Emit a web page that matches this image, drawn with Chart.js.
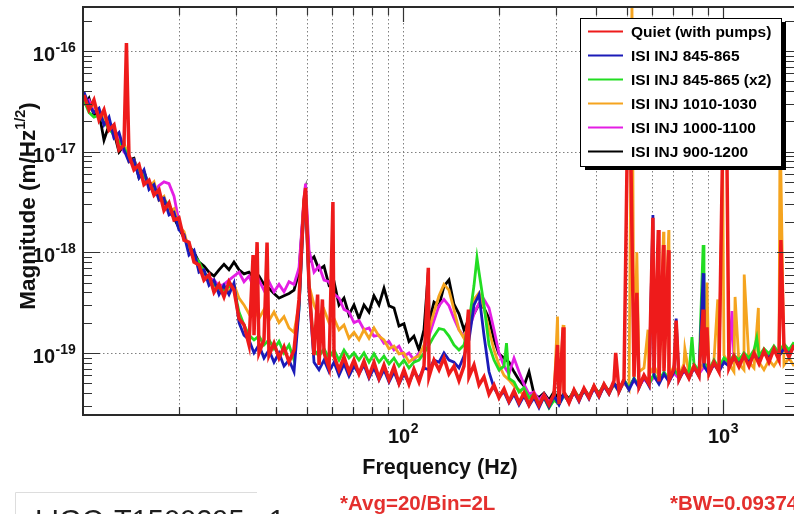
<!DOCTYPE html>
<html>
<head>
<meta charset="utf-8">
<title>ISI injection spectra</title>
<script src="https://cdn.jsdelivr.net/npm/chart.js@4.4.1/dist/chart.umd.min.js"></script>
<style>
  html, body { margin: 0; padding: 0; background: #ffffff; overflow: hidden; }
  canvas { display: block; }
</style>
</head>
<body>
<canvas id="spectrum" width="794" height="514"></canvas>
<script>
// Frequency bins (Hz) shared by all spectra
const freqHz = [
  10.07, 10.44, 10.82, 11.22, 11.63, 12.06, 12.50, 12.96, 13.43, 13.92,
  14.43, 14.96, 15.51, 16.08, 16.67, 17.28, 17.91, 18.57, 19.25, 19.95,
  20.69, 21.44, 22.23, 23.04, 23.88, 24.76, 25.67, 26.61, 27.58, 28.59,
  29.64, 30.73, 31.85, 33.02, 34.23, 35.48, 36.78, 38.13, 39.53, 40.98,
  42.48, 44.04, 45.65, 47.32, 49.06, 50.86, 52.72, 54.65, 56.65, 58.73,
  60.88, 63.10, 65.41, 67.81, 70.29, 72.86, 75.53, 78.30, 81.17, 84.14,
  87.22, 90.42, 93.73, 97.16, 100.7, 104.4, 108.2, 112.2, 116.3, 120.6,
  125.0, 129.6, 134.3, 139.2, 144.3, 149.6, 155.1, 160.8, 166.7, 172.8,
  179.1, 185.7, 192.5, 199.5, 206.9, 214.4, 222.3, 230.4, 238.8, 247.6,
  256.7, 266.1, 275.8, 285.9, 296.4, 307.3, 318.5, 330.2, 342.3, 354.8,
  367.8, 381.3, 395.3, 409.8, 424.8, 440.4, 456.5, 473.2, 490.6, 508.6,
  527.2, 546.5, 566.5, 587.3, 608.8, 631.0, 654.1, 678.1, 702.9, 728.6,
  755.3, 783.0, 811.7, 841.4, 872.2, 904.2, 937.3, 971.6, 1007, 1044,
  1082, 1122, 1163, 1206, 1250, 1296, 1343, 1392, 1443, 1496,
  1551, 1608, 1667
];

// Magnitude spectra, m/Hz^(1/2)
const quiet = [
  3.65e-17, 2.6e-17, 3.25e-17, 2.06e-17, 2.6e-17, 1.64e-17, 1.84e-17, 1.04e-17, 1.16e-17, 9.2e-18,
  6.6e-18, 7.4e-18, 4.7e-18, 5.2e-18, 3.7e-18, 4.2e-18, 2.6e-18, 3.1e-18, 2.1e-18, 2.2e-18,
  1.32e-18, 1.26e-18, 8.0e-19, 7.5e-19, 5.3e-19, 6.0e-19, 4.0e-19, 4.8e-19, 3.6e-19, 5.1e-19,
  4.2e-19, 2.2e-19, 1.9e-19, 1.2e-19, 1.5e-19, 1.0e-19, 1.35e-19, 9.5e-20, 1.25e-19, 8.9e-20,
  1.15e-19, 8.1e-20, 1.07e-19, 3.4e-19, 3.3e-18, 4.7e-19, 9.5e-20, 7.6e-20, 1.0e-19, 7.1e-20,
  9.3e-20, 6.8e-20, 9.1e-20, 6.5e-20, 8.5e-20, 6.2e-20, 8.3e-20, 5.9e-20, 8.1e-20, 5.6e-20,
  7.6e-20, 5.4e-20, 7.3e-20, 5.0e-20, 6.8e-20, 4.9e-20, 6.9e-20, 5.15e-20, 7.4e-20, 5.8e-20,
  8.5e-20, 6.8e-20, 8.9e-20, 6.2e-20, 7.4e-20, 5.3e-20, 7.4e-20, 5.8e-20, 7.6e-20, 4.8e-20,
  5.8e-20, 3.9e-20, 4.8e-20, 3.6e-20, 4.4e-20, 3.3e-20, 4.2e-20, 3.2e-20, 4.0e-20, 3.05e-20,
  3.9e-20, 3.0e-20, 3.8e-20, 3.05e-20, 3.9e-20, 3.1e-20, 4.1e-20, 3.2e-20, 4.3e-20, 3.4e-20,
  4.45e-20, 3.6e-20, 4.7e-20, 3.75e-20, 4.9e-20, 4.0e-20, 5.3e-20, 4.2e-20, 5.5e-20, 2.5e-17,
  5.8e-20, 4.6e-20, 6.0e-20, 4.9e-20, 6.3e-20, 5.2e-20, 6.6e-20, 5.3e-20, 7.0e-20, 5.5e-20,
  7.1e-20, 5.6e-20, 7.4e-20, 5.9e-20, 7.9e-20, 6.2e-20, 8.1e-20, 6.5e-20, 3.1e-17, 7.1e-20,
  9.3e-20, 7.3e-20, 9.5e-20, 7.4e-20, 1.0e-19, 7.8e-20, 1.05e-19, 8.1e-20, 1.1e-19, 8.5e-20,
  1.15e-19, 9.1e-20, 1.2e-19
];
const inj845 = [
  3.9e-17, 2.9e-17, 2.45e-17, 2.7e-17, 1.84e-17, 2.2e-17, 1.37e-17, 1.55e-17, 1.04e-17, 7.9e-18,
  8.3e-18, 5.5e-18, 6.6e-18, 4.2e-18, 4.7e-18, 3.3e-18, 3.45e-18, 2.35e-18, 2.5e-18, 1.66e-18,
  1.49e-18, 9.4e-19, 1.05e-18, 6.35e-19, 6.7e-19, 4.7e-19, 5.3e-19, 3.8e-19, 4.7e-19, 3.8e-19,
  4.95e-19, 2.0e-19, 1.5e-19, 1.35e-19, 1.0e-19, 1.2e-19, 8.9e-20, 1.07e-19, 8.1e-20, 1.0e-19,
  7.4e-20, 8.5e-20, 6.5e-20, 2.7e-19, 2.95e-18, 4.2e-19, 8.1e-20, 6.8e-20, 8.5e-20, 6.5e-20,
  8.1e-20, 6.0e-20, 7.8e-20, 5.9e-20, 7.4e-20, 6.2e-20, 7.6e-20, 5.6e-20, 7.1e-20, 5.4e-20,
  6.8e-20, 5.15e-20, 6.5e-20, 4.9e-20, 6.2e-20, 5.0e-20, 6.5e-20, 5.6e-20, 7.1e-20, 6.8e-20,
  8.5e-20, 8.1e-20, 1.0e-19, 8.5e-20, 8.1e-20, 7.1e-20, 9.3e-20, 1.35e-19, 3.0e-19, 3.8e-19,
  1.5e-19, 6.5e-20, 4.5e-20, 3.7e-20, 4.1e-20, 3.2e-20, 3.9e-20, 3.05e-20, 3.75e-20, 3.0e-20,
  3.6e-20, 2.85e-20, 3.65e-20, 2.9e-20, 3.75e-20, 3.05e-20, 3.9e-20, 3.2e-20, 4.1e-20, 3.3e-20,
  4.3e-20, 3.5e-20, 4.5e-20, 3.65e-20, 4.7e-20, 3.9e-20, 5.0e-20, 4.1e-20, 5.3e-20, 4.3e-20,
  5.5e-20, 4.5e-20, 5.8e-20, 4.7e-20, 5.9e-20, 4.9e-20, 6.2e-20, 5.15e-20, 6.5e-20, 5.4e-20,
  6.8e-20, 5.6e-20, 7.1e-20, 5.9e-20, 7.4e-20, 6.2e-20, 7.8e-20, 6.5e-20, 8.1e-20, 7.4e-20,
  8.9e-20, 7.8e-20, 9.1e-20, 8.1e-20, 9.5e-20, 8.5e-20, 1.0e-19, 8.9e-20, 1.05e-19, 9.3e-20,
  1.1e-19, 9.8e-20, 1.15e-19
];
const inj845x2 = [
  3.25e-17, 2.45e-17, 2.2e-17, 2.3e-17, 1.95e-17, 1.7e-17, 1.46e-17, 1.25e-17, 1.1e-17, 8.6e-18,
  7.4e-18, 6.6e-18, 5.6e-18, 5.0e-18, 4.4e-18, 3.7e-18, 3.3e-18, 2.95e-18, 2.35e-18, 2.0e-18,
  1.38e-18, 1.18e-18, 9.4e-19, 8.0e-19, 6.35e-19, 5.5e-19, 4.8e-19, 4.4e-19, 4.2e-19, 4.6e-19,
  4.4e-19, 2.55e-19, 1.9e-19, 1.5e-19, 1.35e-19, 1.47e-19, 1.2e-19, 1.35e-19, 1.1e-19, 1.3e-19,
  1.0e-19, 1.2e-19, 8.5e-20, 2.8e-19, 3.15e-18, 4.4e-19, 1.07e-19, 9.3e-20, 1.1e-19, 8.9e-20,
  1.07e-19, 8.5e-20, 1.07e-19, 8.9e-20, 1.0e-19, 8.5e-20, 1.0e-19, 8.1e-20, 9.8e-20, 8.1e-20,
  9.3e-20, 7.8e-20, 8.9e-20, 7.4e-20, 8.5e-20, 7.1e-20, 8.1e-20, 8.5e-20, 1.0e-19, 1.2e-19,
  1.47e-19, 1.75e-19, 1.7e-19, 1.47e-19, 1.2e-19, 1.07e-19, 1.2e-19, 2.0e-19, 4.7e-19, 6.35e-19,
  3.0e-19, 1.2e-19, 8.5e-20, 6.8e-20, 7.4e-20, 5.6e-20, 5.15e-20, 4.1e-20, 4.5e-20, 3.6e-20,
  3.9e-20, 3.1e-20, 3.6e-20, 2.85e-20, 3.4e-20, 3.1e-20, 3.75e-20, 3.4e-20, 4.3e-20, 3.6e-20,
  4.1e-20, 3.75e-20, 4.7e-20, 3.9e-20, 4.9e-20, 4.1e-20, 4.9e-20, 4.3e-20, 5.4e-20, 4.5e-20,
  5.6e-20, 4.7e-20, 5.9e-20, 4.9e-20, 6.2e-20, 5.15e-20, 6.5e-20, 5.4e-20, 6.8e-20, 5.9e-20,
  7.1e-20, 6.2e-20, 7.8e-20, 6.5e-20, 8.1e-20, 6.8e-20, 8.5e-20, 7.1e-20, 8.9e-20, 8.1e-20,
  9.5e-20, 8.5e-20, 1.0e-19, 8.9e-20, 1.07e-19, 9.3e-20, 1.1e-19, 9.8e-20, 1.17e-19, 1.0e-19,
  1.23e-19, 1.07e-19, 1.28e-19
];
const inj1010 = [
  3.4e-17, 2.7e-17, 2.95e-17, 2.2e-17, 2.3e-17, 1.64e-17, 1.7e-17, 1.16e-17, 1.25e-17, 7.9e-18,
  8.3e-18, 5.9e-18, 6.3e-18, 4.4e-18, 5.0e-18, 3.3e-18, 3.6e-18, 2.5e-18, 2.7e-18, 1.83e-18,
  1.6e-18, 1.05e-18, 9.4e-19, 6.7e-19, 6.35e-19, 5.1e-19, 4.6e-19, 4.05e-19, 4.4e-19, 4.2e-19,
  4.8e-19, 3.5e-19, 3.0e-19, 2.45e-19, 2.8e-19, 2.2e-19, 2.7e-19, 2.1e-19, 2.55e-19, 2.0e-19,
  2.3e-19, 1.77e-19, 1.6e-19, 3.0e-19, 3.3e-18, 4.7e-19, 3.0e-19, 2.3e-19, 2.7e-19, 2.0e-19,
  2.2e-19, 1.7e-19, 1.9e-19, 1.4e-19, 1.6e-19, 1.35e-19, 1.7e-19, 1.4e-19, 1.77e-19, 1.47e-19,
  1.35e-19, 1.1e-19, 1.17e-19, 9.8e-20, 1.0e-19, 8.1e-20, 8.9e-20, 9.3e-20, 1.2e-19, 1.7e-19,
  2.55e-19, 3.7e-19, 4.8e-19, 4.2e-19, 2.7e-19, 1.7e-19, 1.4e-19, 2.0e-19, 3.4e-19, 3.95e-19,
  2.8e-19, 1.7e-19, 1.07e-19, 7.6e-20, 6.0e-20, 5.4e-20, 4.7e-20, 4.3e-20, 3.75e-20, 3.4e-20,
  3.9e-20, 3.1e-20, 3.75e-20, 3.0e-20, 3.6e-20, 3.25e-20, 3.9e-20, 3.25e-20, 4.1e-20, 3.4e-20,
  4.3e-20, 3.6e-20, 4.7e-20, 3.75e-20, 4.7e-20, 3.9e-20, 4.9e-20, 4.1e-20, 5.15e-20, 4.3e-20,
  5.4e-20, 6.5e-20, 7.1e-20, 6.0e-20, 7.4e-20, 5.9e-20, 7.1e-20, 5.9e-20, 7.4e-20, 5.9e-20,
  7.8e-20, 6.2e-20, 7.6e-20, 6.5e-20, 8.1e-20, 6.5e-20, 8.5e-20, 7.4e-20, 9.5e-20, 7.8e-20,
  6.5e-20, 7.8e-20, 6.8e-20, 8.1e-20, 7.1e-20, 8.1e-20, 6.8e-20, 8.5e-20, 7.4e-20, 8.9e-20,
  7.6e-20, 8.9e-20, 7.4e-20
];
const inj1000 = [
  3.1e-17, 3.25e-17, 2.45e-17, 2.6e-17, 1.9e-17, 1.95e-17, 1.37e-17, 1.42e-17, 9.9e-18, 9.2e-18,
  6.9e-18, 6.9e-18, 5.0e-18, 5.0e-18, 4.0e-18, 4.6e-18, 5.0e-18, 4.8e-18, 3.6e-18, 2.0e-18,
  1.45e-18, 1.1e-18, 9.2e-19, 7.3e-19, 6.35e-19, 5.5e-19, 5.3e-19, 4.6e-19, 4.8e-19, 5.3e-19,
  5.8e-19, 6.35e-19, 5.1e-19, 5.8e-19, 4.4e-19, 5.3e-19, 4.2e-19, 5.1e-19, 4.05e-19, 4.8e-19,
  4.05e-19, 5.1e-19, 4.8e-19, 7.0e-19, 3.45e-18, 1.05e-18, 6.35e-19, 7.3e-19, 5.3e-19, 5.1e-19,
  3.85e-19, 3.5e-19, 2.7e-19, 2.55e-19, 2.0e-19, 2.1e-19, 1.7e-19, 1.77e-19, 1.47e-19, 1.5e-19,
  1.25e-19, 1.3e-19, 1.07e-19, 1.17e-19, 9.3e-20, 1.0e-19, 8.5e-20, 1.0e-19, 1.1e-19, 1.47e-19,
  2.1e-19, 2.95e-19, 3.4e-19, 2.95e-19, 2.2e-19, 1.7e-19, 1.47e-19, 1.7e-19, 2.45e-19, 3.1e-19,
  3.4e-19, 2.8e-19, 1.7e-19, 1.0e-19, 7.4e-20, 6.2e-20, 8.9e-20, 6.5e-20, 4.9e-20, 3.9e-20,
  4.1e-20, 3.4e-20, 3.9e-20, 3.25e-20, 3.75e-20, 3.1e-20, 3.8e-20, 3.3e-20, 4.0e-20, 3.5e-20,
  4.2e-20, 3.65e-20, 4.4e-20, 3.8e-20, 4.6e-20, 4.1e-20, 4.8e-20, 4.3e-20, 5.0e-20, 4.5e-20,
  5.3e-20, 4.7e-20, 5.5e-20, 4.9e-20, 5.8e-20, 5.15e-20, 6.0e-20, 5.4e-20, 6.3e-20, 5.6e-20,
  6.6e-20, 5.9e-20, 7.0e-20, 6.2e-20, 7.3e-20, 6.5e-20, 7.6e-20, 6.8e-20, 8.1e-20, 7.8e-20,
  8.9e-20, 8.1e-20, 9.3e-20, 8.5e-20, 9.8e-20, 8.9e-20, 1.0e-19, 9.3e-20, 1.07e-19, 9.8e-20,
  1.1e-19, 1.0e-19, 1.17e-19
];
const inj900 = [
  2.9e-17, 3.4e-17, 2.3e-17, 2.45e-17, 1.3e-17, 1.84e-17, 1.55e-17, 9.9e-18, 1.16e-17, 8.3e-18,
  8.6e-18, 5.5e-18, 6.3e-18, 4.6e-18, 4.2e-18, 3.6e-18, 3.2e-18, 2.6e-18, 2.2e-18, 1.75e-18,
  1.38e-18, 1.15e-18, 1.0e-18, 8.0e-19, 7.3e-19, 6.35e-19, 5.8e-19, 6.7e-19, 7.6e-19, 6.7e-19,
  8.0e-19, 6.7e-19, 6.1e-19, 6.35e-19, 5.5e-19, 5.8e-19, 4.8e-19, 4.4e-19, 3.9e-19, 3.5e-19,
  3.7e-19, 3.9e-19, 4.2e-19, 6.35e-19, 3.3e-18, 8.0e-19, 9.0e-19, 6.7e-19, 7.3e-19, 4.7e-19,
  5.1e-19, 3.0e-19, 3.5e-19, 2.4e-19, 3.0e-19, 2.2e-19, 3.0e-19, 2.55e-19, 3.7e-19, 3.0e-19,
  4.4e-19, 2.95e-19, 2.8e-19, 1.85e-19, 1.95e-19, 1.3e-19, 1.47e-19, 1.07e-19, 1.7e-19, 2.0e-19,
  3.2e-19, 2.95e-19, 4.6e-19, 5.3e-19, 3.05e-19, 2.45e-19, 1.7e-19, 2.2e-19, 2.45e-19, 3.05e-19,
  2.8e-19, 2.2e-19, 1.35e-19, 9.8e-20, 8.9e-20, 8.1e-20, 6.5e-20, 5.4e-20, 4.7e-20, 6.5e-20,
  3.9e-20, 3.6e-20, 4.0e-20, 3.4e-20, 4.1e-20, 3.3e-20, 4.0e-20, 3.5e-20, 4.2e-20, 3.6e-20,
  4.4e-20, 3.75e-20, 4.6e-20, 4.0e-20, 4.8e-20, 4.2e-20, 5.0e-20, 4.4e-20, 5.3e-20, 4.6e-20,
  5.5e-20, 4.8e-20, 5.8e-20, 5.0e-20, 6.0e-20, 5.3e-20, 6.3e-20, 5.5e-20, 6.6e-20, 5.8e-20,
  7.0e-20, 6.0e-20, 7.3e-20, 6.3e-20, 7.6e-20, 6.6e-20, 7.9e-20, 7.0e-20, 8.5e-20, 7.6e-20,
  8.7e-20, 7.9e-20, 9.1e-20, 8.3e-20, 9.5e-20, 8.7e-20, 1.0e-19, 9.1e-20, 1.05e-19, 9.5e-20,
  1.1e-19, 1.0e-19, 1.15e-19
];

// Narrow spectral lines [frequency Hz, peak magnitude] for each spectrum
const quietLines = [
  [13.67, 1.2e-16], [34.0, 9.4e-19], [35.0, 1.26e-18], [37.6, 1.25e-18], [49.6, 4.35e-18],
  [54.1, 3.8e-19], [56.0, 3.4e-19], [60.4, 3.15e-18], [120.0, 7.0e-19], [160.2, 2.7e-19],
  [304, 1.2e-19], [316.6, 1.8e-19], [462, 1.0e-19], [504, 2.6e-17], [513, 2.4e-17],
  [538, 3.95e-19], [604, 2.2e-18], [628, 1.66e-18], [652, 1.18e-18], [676, 1.05e-18],
  [714, 2.1e-19], [867, 2.7e-19], [891, 1.8e-19], [1003, 3.25e-17], [1025, 3.0e-17],
  [1517, 1.32e-18]
];
const inj845Lines = [[49.6, 3.7e-18], [604, 2.35e-18], [714, 2.2e-19], [867, 6.2e-19]];
const inj845x2Lines = [[49.6, 4.0e-18], [170.3, 8.8e-19], [210.6, 1.25e-19], [800, 1.44e-19], [867, 1.18e-18], [1275, 1.4e-19]];
const inj1010Lines = [
  [49.6, 4.2e-18], [304, 2.3e-19], [316.6, 1.9e-19], [519.5, 3.2e-16], [538, 1.0e-18],
  [583, 1.7e-19], [652, 1.6e-18], [677, 1.66e-18], [760, 1.1e-19], [891, 5.0e-19],
  [963, 3.4e-19], [998, 6.6e-18], [1091, 3.6e-19], [1165, 6.0e-19], [1290, 2.8e-19],
  [1508, 2.06e-17]
];
const inj1000Lines = [[49.6, 4.8e-18], [1067, 2.6e-19]];
const inj900Lines = [[49.6, 4.0e-18], [120.0, 6.35e-19], [165, 2.7e-19]];

const seriesNames = ['Quiet (with pumps)', 'ISI INJ 845-865', 'ISI INJ 845-865 (x2)', 'ISI INJ 1010-1030', 'ISI INJ 1000-1100', 'ISI INJ 900-1200'];
const seriesValues = [quiet, inj845, inj845x2, inj1010, inj1000, inj900];
const seriesLines = [quietLines, inj845Lines, inj845x2Lines, inj1010Lines, inj1000Lines, inj900Lines];
const seriesColors = ['#ee1b1b', '#1b1bb8', '#22dd22', '#f5a41f', '#e41ee4', '#000000'];
const seriesWidths = [3.5, 2.8, 2.8, 2.8, 2.8, 2.8];

// Axis ranges and ticks
const xRange = [10, 1667];
const yRange = [2.42e-20, 2.73e-16];
const xGridFreqs = [20, 30, 40, 50, 60, 70, 80, 90, 100, 200, 300, 400, 500, 600, 700, 800, 900, 1000];
const xLabelDecades = [[100, '2'], [1000, '3']];
const yLabelDecades = [[1e-16, '-16'], [1e-17, '-17'], [1e-18, '-18'], [1e-19, '-19']];

const FONT = "'Liberation Sans', Arial, Helvetica, sans-serif";

function buildPoints(values, lines) {
  const pts = freqHz.map((f, i) => ({ x: f, y: values[i] }));
  lines.forEach(([f, v]) => pts.push({ x: f, y: v }));
  pts.sort((a, b) => a.x - b.x);
  return pts;
}

function drawPower(ctx, base, exp, x, y, baseSize, expSize, align, expRaise) {
  ctx.font = `bold ${baseSize}px ${FONT}`;
  const wb = ctx.measureText(base).width;
  ctx.font = `bold ${expSize}px ${FONT}`;
  const we = ctx.measureText(exp).width;
  let start;
  if (align === 'center') start = x - (wb + we) / 2;
  else start = x - wb; // x marks the join between base and exponent
  ctx.textAlign = 'left';
  ctx.font = `bold ${baseSize}px ${FONT}`;
  ctx.fillText(base, start, y);
  ctx.font = `bold ${expSize}px ${FONT}`;
  ctx.fillText(exp, start + wb + 0.5, y - expRaise);
}

const rootFrame = {
  id: 'rootFrame',
  beforeDatasetsDraw(chart) {
    const { ctx, chartArea: a, scales: { x, y } } = chart;
    ctx.save();
    ctx.strokeStyle = '#808080';
    ctx.lineWidth = 1;
    ctx.setLineDash([1.5, 2.5]);
    ctx.beginPath();
    xGridFreqs.forEach(f => {
      const px = Math.round(x.getPixelForValue(f)) + 0.5;
      ctx.moveTo(px, a.top); ctx.lineTo(px, a.bottom);
    });
    yLabelDecades.forEach(([v]) => {
      const py = Math.round(y.getPixelForValue(v)) + 0.5;
      ctx.moveTo(a.left, py); ctx.lineTo(a.right, py);
    });
    ctx.stroke();
    ctx.restore();
  },
  afterDatasetsDraw(chart) {
    const { ctx, chartArea: a, scales: { x, y } } = chart;
    ctx.save();
    ctx.setLineDash([]);

    // tick marks on all four sides
    ctx.strokeStyle = '#333333';
    ctx.lineWidth = 1.2;
    ctx.beginPath();
    xGridFreqs.forEach(f => {
      const px = Math.round(x.getPixelForValue(f)) + 0.5;
      const len = (f === 100 || f === 1000) ? 15 : 8;
      ctx.moveTo(px, a.bottom); ctx.lineTo(px, a.bottom - len);
      ctx.moveTo(px, a.top); ctx.lineTo(px, a.top + len);
    });
    for (let e = -20; e <= -16; e++) {
      for (let m = 1; m <= 9; m++) {
        const v = Number(m + 'e' + e);
        if (v < yRange[0] || v > yRange[1]) continue;
        const py = Math.round(y.getPixelForValue(v)) + 0.5;
        const len = m === 1 ? 17 : 9;
        ctx.moveTo(a.left, py); ctx.lineTo(a.left + len, py);
        ctx.moveTo(a.right, py); ctx.lineTo(a.right - len, py);
      }
    }
    ctx.stroke();

    // frame
    ctx.strokeStyle = '#2a2a2a';
    ctx.lineWidth = 2;
    ctx.beginPath();
    ctx.moveTo(a.right + 2, a.top); ctx.lineTo(a.left, a.top);
    ctx.lineTo(a.left, a.bottom); ctx.lineTo(a.right + 2, a.bottom);
    ctx.stroke();

    // tick labels
    ctx.fillStyle = '#111111';
    ctx.textBaseline = 'alphabetic';
    yLabelDecades.forEach(([v, exp]) => {
      const py = y.getPixelForValue(v);
      drawPower(ctx, '10', exp, 55, py + 10, 20, 14, 'join', 9);
    });
    xLabelDecades.forEach(([v, exp]) => {
      const px = x.getPixelForValue(v);
      drawPower(ctx, '10', exp, px, 443, 20, 14, 'center', 10);
    });

    // axis titles
    ctx.font = `bold 21.5px ${FONT}`;
    ctx.textAlign = 'center';
    ctx.fillText('Frequency (Hz)', 440, 474);

    ctx.save();
    ctx.translate(35, 206);
    ctx.rotate(-Math.PI / 2);
    const parts = [['Magnitude (m/Hz', 22.5, 0], ['1/2', 14.5, -10], [')', 22.5, 0]];
    let total = 0;
    parts.forEach(p => { ctx.font = `bold ${p[1]}px ${FONT}`; total += ctx.measureText(p[0]).width; });
    let cx = -total / 2;
    ctx.textAlign = 'left';
    parts.forEach(p => {
      ctx.font = `bold ${p[1]}px ${FONT}`;
      ctx.fillText(p[0], cx, p[2]);
      cx += ctx.measureText(p[0]).width;
    });
    ctx.restore();

    // legend box with drop shadow
    const lx = 580, ly = 18, lw = 201, lh = 148;
    ctx.fillStyle = '#000000';
    ctx.fillRect(lx + 5, ly + 4, lw, lh);
    ctx.fillStyle = '#ffffff';
    ctx.fillRect(lx, ly, lw, lh);
    ctx.strokeStyle = '#000000';
    ctx.lineWidth = 1;
    ctx.strokeRect(lx + 0.5, ly + 0.5, lw, lh);
    ctx.font = `bold 15.5px ${FONT}`;
    ctx.textAlign = 'left';
    seriesNames.forEach((name, i) => {
      const ry = 31.5 + i * 24;
      ctx.strokeStyle = seriesColors[i];
      ctx.lineWidth = 2;
      ctx.beginPath();
      ctx.moveTo(588, ry); ctx.lineTo(623, ry);
      ctx.stroke();
      ctx.fillStyle = '#000000';
      ctx.fillText(name, 631, ry + 5.5);
    });

    // document footer
    ctx.strokeStyle = '#dddddd';
    ctx.lineWidth = 1;
    ctx.beginPath();
    ctx.moveTo(15.5, 514); ctx.lineTo(15.5, 492.5); ctx.lineTo(257, 492.5);
    ctx.stroke();
    ctx.fillStyle = '#1e1e1e';
    ctx.font = `29px ${FONT}`;
    ctx.fillText('LIGO-T1500295-v1', 35, 530);
    ctx.fillStyle = '#e4302e';
    ctx.font = `bold 20.5px ${FONT}`;
    ctx.fillText('*Avg=20/Bin=2L', 340, 510);
    ctx.fillText('*BW=0.09374', 670, 510);

    ctx.restore();
  }
};

new Chart(document.getElementById('spectrum'), {
  type: 'line',
  data: {
    datasets: seriesNames.map((name, i) => ({
      label: name,
      data: buildPoints(seriesValues[i], seriesLines[i]),
      borderColor: seriesColors[i],
      backgroundColor: seriesColors[i],
      borderWidth: seriesWidths[i],
      borderJoinStyle: 'miter',
      pointRadius: 0,
      tension: 0,
      fill: false
    }))
  },
  options: {
    responsive: false,
    animation: false,
    devicePixelRatio: 1,
    layout: { padding: { left: 83, top: 7, right: 0, bottom: 99 } },
    plugins: { legend: { display: false }, tooltip: { enabled: false } },
    scales: {
      x: { type: 'logarithmic', min: xRange[0], max: xRange[1], display: false },
      y: { type: 'logarithmic', min: yRange[0], max: yRange[1], display: false }
    }
  },
  plugins: [rootFrame]
});
</script>
</body>
</html>
